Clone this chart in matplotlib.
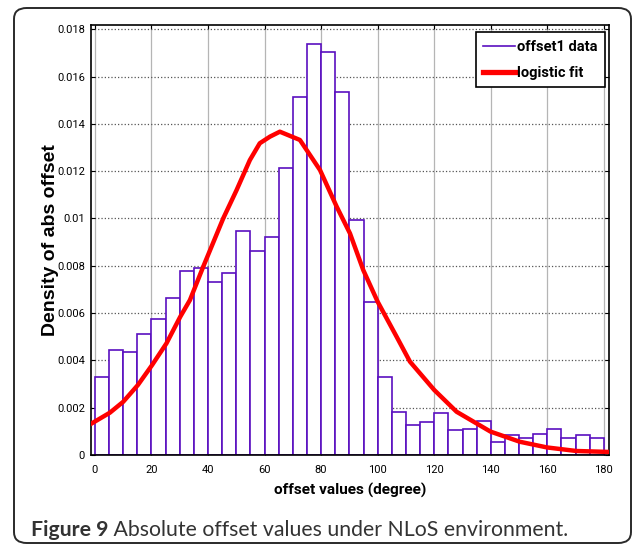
import numpy as np
import matplotlib
matplotlib.use('Agg')
import matplotlib.pyplot as plt
from matplotlib.patches import FancyBboxPatch
from matplotlib.lines import Line2D

# histogram of abs offset (5 degree bins, 0..180)
bin_left = np.arange(0, 180, 5)
density = [0.00331, 0.00443, 0.00434, 0.00513, 0.00576, 0.00664, 0.00777, 0.00792,
           0.00733, 0.00771, 0.00947, 0.00863, 0.00923, 0.01212, 0.01512, 0.01739,
           0.01705, 0.01536, 0.00995, 0.00646, 0.00331, 0.00183, 0.00125, 0.00138,
           0.00179, 0.00106, 0.00111, 0.00142, 0.00055, 0.00083, 0.00073, 0.00087,
           0.0011, 0.00073, 0.00083, 0.00073]

# logistic fit curve
fit_x = [-1.5, 5.3, 10, 15.2, 20.2, 25.3, 30.2, 33.6, 38.3, 45.4, 50.1, 54.8, 58.3,
         61.9, 65.4, 72.5, 79.6, 85.5, 90.2, 94.9, 100, 106.7, 111.4, 120, 127.9,
         139.9, 150.3, 159.9, 170.3, 181.9]
fit_y = [0.00131, 0.00179, 0.00225, 0.00296, 0.0038, 0.00472, 0.00585, 0.00655,
         0.00796, 0.01001, 0.0112, 0.01247, 0.01318, 0.01346, 0.01367, 0.01332,
         0.01205, 0.0105, 0.00937, 0.00782, 0.00648, 0.005, 0.00395, 0.00275,
         0.00183, 0.00099, 0.00056, 0.00032, 0.00017, 0.00013]

x_ticks = [0, 20, 40, 60, 80, 100, 120, 140, 160, 180]
y_ticks = [0, 0.002, 0.004, 0.006, 0.008, 0.01, 0.012, 0.014, 0.016, 0.018]

tick_font = 'Roboto'
bar_color = '#5a0fc0'

fig = plt.figure(figsize=(6.34, 5.45), dpi=100)
ax = fig.add_axes([0.143, 0.1651, 0.818, 0.789])

ax.bar(bin_left, density, width=5, align='edge', facecolor='white',
       edgecolor=bar_color, linewidth=1.2, zorder=2)
ax.plot(fit_x, fit_y, color='#ff0000', linewidth=3.2, zorder=3)

ax.set_xlim(-1.5, 181.9)
ax.set_ylim(0, 0.01818)
ax.set_xticks(x_ticks)
ax.set_yticks(y_ticks)
ax.set_xticklabels([str(v) for v in x_ticks], family=tick_font, fontsize=8)
ax.set_yticklabels(['%g' % v for v in y_ticks], family=tick_font, fontsize=8)
ax.tick_params(direction='in', top=True, right=True, length=3, width=0.8)
ax.tick_params(axis='x', pad=7)
ax.tick_params(axis='y', pad=4)

ax.xaxis.grid(True, color='#b5b5b5', linestyle='-', linewidth=0.9)
ax.yaxis.grid(True, color='#555555', linestyle=':', linewidth=0.9)
ax.set_axisbelow(True)
for s in ax.spines.values():
    s.set_linewidth(1.2)

ax.set_xlabel('offset values (degree)', family=tick_font, fontsize=11.1, fontweight='bold')
ax.xaxis.set_label_coords(0.5, -0.0814)
ax.xaxis.label.set_va('center')
ax.set_ylabel('Density of abs offset', family='Liberation Sans', fontsize=14,
              fontweight='bold')
ax.yaxis.set_label_coords(-0.077, 0.5)
ax.yaxis.label.set_va('center')

handles = [Line2D([], [], color=bar_color, linewidth=1.2),
           Line2D([], [], color='#ff0000', linewidth=3.8)]
leg = ax.legend(handles, ['offset1 data', 'logistic fit'], loc='upper right',
                bbox_to_anchor=(0.992, 0.983),
                prop={'family': tick_font, 'size': 10.5, 'weight': 'bold'},
                frameon=True, fancybox=False, edgecolor='black', framealpha=1,
                handlelength=2.2, handletextpad=0.15, borderpad=0.5, labelspacing=0.85,
                borderaxespad=0)
leg.get_frame().set_linewidth(1.2)

# rounded frame around the whole figure
frame = FancyBboxPatch((14 / 634, 2 / 545), 617 / 634, 535 / 545,
                       boxstyle='round,pad=0,rounding_size=0.02',
                       transform=fig.transFigure, facecolor='none',
                       edgecolor='#2a2a2a', linewidth=1.4, zorder=0)
fig.patches.append(frame)

cap1 = fig.text(31 / 634, 1 - 536 / 545, 'Figure 9', family='Lato', fontsize=15.3,
                fontweight='bold', color='#333333', va='baseline')
plt.annotate(' Absolute offset values under NLoS environment.', xy=(1, 0),
             xycoords=cap1, xytext=(0, 0), textcoords='offset points',
             va='bottom', ha='left', family='Lato', fontsize=15.3,
             color='#333333', annotation_clip=False)

plt.savefig('out.png', dpi=100)
